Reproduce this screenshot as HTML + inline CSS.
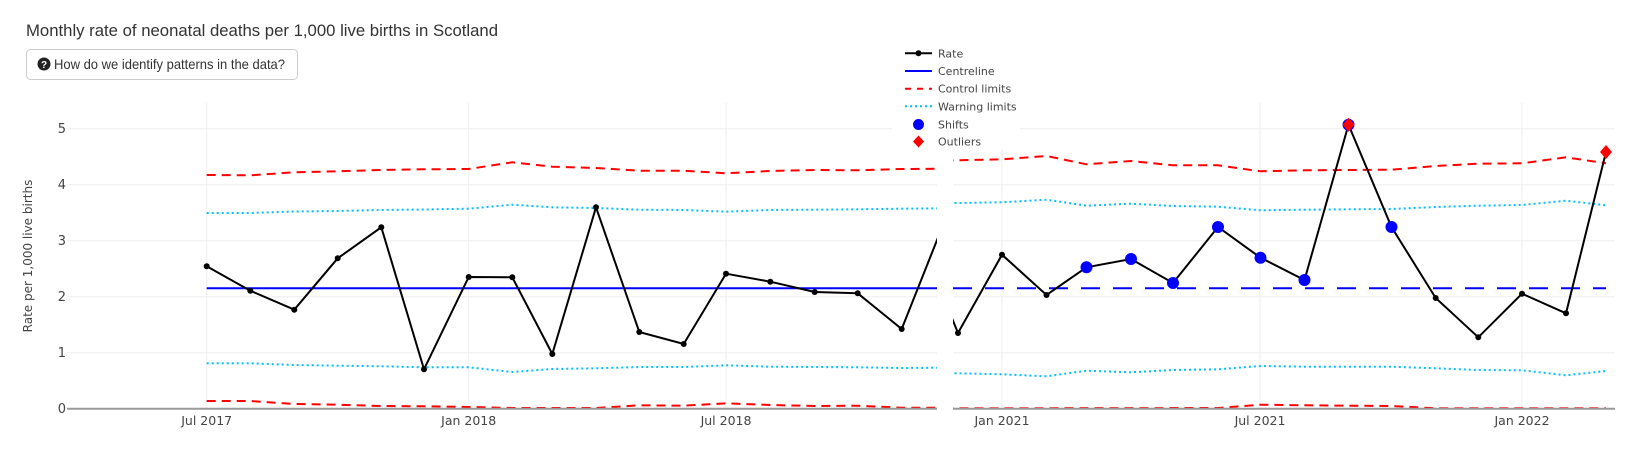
<!DOCTYPE html>
<html><head><meta charset="utf-8"><style>
html,body{margin:0;padding:0;background:#fff;width:1625px;height:471px;overflow:hidden}
</style></head><body>
<svg width="1625" height="471" xmlns="http://www.w3.org/2000/svg" style="display:block">
<defs>
<clipPath id="cl"><rect x="67" y="95" width="870" height="320"/></clipPath>
<clipPath id="cr"><rect x="953" y="95" width="662" height="320"/></clipPath>
</defs>
<text x="26" y="36" font-family="Liberation Sans, sans-serif" font-size="17" fill="#333" textLength="472" lengthAdjust="spacingAndGlyphs">Monthly rate of neonatal deaths per 1,000 live births in Scotland</text>
<rect x="26.5" y="49.5" width="271" height="30" rx="4" fill="#fff" stroke="#ccc"/>
<circle cx="44" cy="64" r="6.5" fill="#222"/>
<text x="44" y="68" text-anchor="middle" font-family="Liberation Sans, sans-serif" font-size="10" font-weight="bold" fill="#fff">?</text>
<text x="54" y="69" font-family="Liberation Sans, sans-serif" font-size="14" fill="#333" textLength="231" lengthAdjust="spacingAndGlyphs">How do we identify patterns in the data?</text>

<g stroke="#eee" stroke-width="1">
<line x1="206.7" y1="103" x2="206.7" y2="408"/><line x1="468.7" y1="103" x2="468.7" y2="408"/><line x1="726" y1="103" x2="726" y2="408"/>
<line x1="1002" y1="103" x2="1002" y2="408"/><line x1="1260" y1="103" x2="1260" y2="408"/><line x1="1522" y1="103" x2="1522" y2="408"/>
<line x1="67" y1="128.7" x2="937" y2="128.7"/><line x1="67" y1="184.7" x2="937" y2="184.7"/><line x1="67" y1="240.7" x2="937" y2="240.7"/><line x1="67" y1="296.7" x2="937" y2="296.7"/><line x1="67" y1="352.7" x2="937" y2="352.7"/>
<line x1="953" y1="128.7" x2="1615" y2="128.7"/><line x1="953" y1="184.7" x2="1615" y2="184.7"/><line x1="953" y1="240.7" x2="1615" y2="240.7"/><line x1="953" y1="296.7" x2="1615" y2="296.7"/><line x1="953" y1="352.7" x2="1615" y2="352.7"/>
</g>
<g font-family="DejaVu Sans, sans-serif" font-size="13" fill="#444" text-anchor="end">
<text x="66" y="133">5</text><text x="66" y="189">4</text><text x="66" y="245">3</text><text x="66" y="301">2</text><text x="66" y="357">1</text><text x="66" y="413">0</text>
</g>
<g font-family="DejaVu Sans, sans-serif" font-size="12.5" fill="#444" text-anchor="middle">
<text x="206.7" y="425">Jul 2017</text><text x="468.7" y="425">Jan 2018</text><text x="726" y="425">Jul 2018</text>
<text x="1002" y="425">Jan 2021</text><text x="1260" y="425">Jul 2021</text><text x="1522" y="425">Jan 2022</text>
</g>
<text transform="translate(32,256) rotate(-90)" text-anchor="middle" font-family="DejaVu Sans, sans-serif" font-size="12" fill="#444">Rate per 1,000 live births</text>

<g clip-path="url(#cl)" fill="none" stroke-width="2">
<polyline stroke="#ff0000" stroke-dasharray="9,6" points="206.7,175 250.3,175.3 294.3,172.3 337.7,171.3 381.3,170 424,169.3 468.7,169 512.3,162.3 552.3,166.7 596,168 639.3,170.7 683.7,170.7 726,173.3 770.3,171 814.7,170 857.7,170.3 901.7,169 945,168.7"/>
<polyline stroke="#00bfff" stroke-dasharray="2,3" points="206.7,213 250.3,213 294.3,211.5 337.7,211 381.3,210 424,209.5 468.7,208.7 512.3,204.7 552.3,207.3 596,208 639.3,209.7 683.7,210 726,211.7 770.3,210 814.7,209.7 857.7,209.3 901.7,208.7 945,208.3"/>
<polyline stroke="#00bfff" stroke-dasharray="2,3" points="206.7,363.3 250.3,363.3 294.3,365 337.7,365.7 381.3,366.3 424,367.3 468.7,367.3 512.3,372 552.3,369 596,368.3 639.3,367 683.7,367 726,365.3 770.3,366.7 814.7,367 857.7,367.3 901.7,368 945,367.7"/>
<polyline stroke="#ff0000" stroke-dasharray="9,6" points="206.7,401 250.3,401 294.3,404 337.7,404.7 381.3,406 424,406.3 468.7,407 512.3,408 552.3,408 596,408 639.3,405.3 683.7,405.7 726,403.3 770.3,405 814.7,406 857.7,405.7 901.7,407.7 945,407.7"/>
<line x1="206.7" y1="288.3" x2="945" y2="288.3" stroke="#0000ff"/>
<polyline stroke="#000" points="206.7,266.3 250.3,290.7 294.3,309.7 337.7,258.3 381.3,227.3 424,369.3 468.7,277 512.3,277.3 552.3,354 596,207.3 639.3,332 683.7,344 726,273.7 770.3,281.7 814.7,292 857.7,293.3 901.7,329 945,220"/>
<g fill="#000" stroke="none">
<circle cx="206.7" cy="266.3" r="3"/><circle cx="250.3" cy="290.7" r="3"/><circle cx="294.3" cy="309.7" r="3"/><circle cx="337.7" cy="258.3" r="3"/><circle cx="381.3" cy="227.3" r="3"/><circle cx="424" cy="369.3" r="3"/><circle cx="468.7" cy="277" r="3"/><circle cx="512.3" cy="277.3" r="3"/><circle cx="552.3" cy="354" r="3"/><circle cx="596" cy="207.3" r="3"/><circle cx="639.3" cy="332" r="3"/><circle cx="683.7" cy="344" r="3"/><circle cx="726" cy="273.7" r="3"/><circle cx="770.3" cy="281.7" r="3"/><circle cx="814.7" cy="292" r="3"/><circle cx="857.7" cy="293.3" r="3"/><circle cx="901.7" cy="329" r="3"/>
</g>
</g>

<g clip-path="url(#cr)" fill="none" stroke-width="2">
<polyline stroke="#ff0000" stroke-dasharray="9,6" points="914.5,160.5 958,160.3 1002,159.3 1046.5,156 1086.5,164.3 1131,161 1173,165.3 1218,165.3 1260.5,171.3 1304.5,170.3 1348.5,170 1391.5,169.7 1435.7,166 1478.3,163.7 1522,163.3 1566,157.3 1606,163.3"/>
<polyline stroke="#00bfff" stroke-dasharray="2,3" points="914.5,203 958,203 1002,202.3 1046.5,199.7 1086.5,205.7 1131,203.7 1173,206 1218,206.7 1260.5,210.3 1304.5,209.7 1348.5,209.3 1391.5,209 1435.7,207 1478.3,205.7 1522,205 1566,200.7 1606,205.3"/>
<polyline stroke="#00bfff" stroke-dasharray="2,3" points="914.5,373 958,373.3 1002,374.3 1046.5,376.3 1086.5,370.7 1131,372.3 1173,370 1218,369.3 1260.5,366 1304.5,366.7 1348.5,366.7 1391.5,366.7 1435.7,368.3 1478.3,370 1522,370.3 1566,375.3 1606,371"/>
<polyline stroke="#ff0000" stroke-dasharray="9,6" points="914.5,408.3 958,408.3 1218,408 1260.5,404.7 1304.5,405.3 1348.5,405.7 1391.5,406 1435.7,408.3 1606,408.3"/>
<line x1="953" y1="288.3" x2="1606" y2="288.3" stroke="#0000ff" stroke-dasharray="19,13"/>
<polyline stroke="#000" points="914.5,226 958,333 1002,254.7 1046.5,295 1086.5,267.3 1131,259 1173,283 1218,227 1260.5,257.7 1304.5,280 1348.5,124.7 1391.5,227 1435.7,298 1478.3,337.3 1522,293.7 1566,313.3 1606,152"/>
<g fill="#000" stroke="none">
<circle cx="958" cy="333" r="3"/><circle cx="1002" cy="254.7" r="3"/><circle cx="1046.5" cy="295" r="3"/><circle cx="1435.7" cy="298" r="3"/><circle cx="1478.3" cy="337.3" r="3"/><circle cx="1522" cy="293.7" r="3"/><circle cx="1566" cy="313.3" r="3"/>
</g>
<g fill="#0000ff" stroke="none">
<circle cx="1086.5" cy="267.3" r="6"/><circle cx="1131" cy="259" r="6"/><circle cx="1173" cy="283" r="6"/><circle cx="1218" cy="227" r="6"/><circle cx="1260.5" cy="257.7" r="6"/><circle cx="1304.5" cy="280" r="6"/><circle cx="1348.5" cy="124.7" r="6"/><circle cx="1391.5" cy="227" r="6"/>
</g>
<g fill="#ff0000" stroke="none">
<polygon points="1348.5,117.7 1354.5,124.7 1348.5,131.7 1342.5,124.7"/>
<polygon points="1606,145 1612,152 1606,159 1600,152"/>
</g>
</g>
<line x1="67" y1="408.7" x2="937" y2="408.7" stroke="#999" stroke-width="2"/>
<line x1="953" y1="408.7" x2="1615" y2="408.7" stroke="#999" stroke-width="2"/>

<rect x="892" y="42" width="128" height="108" fill="#fff"/>
<g font-family="DejaVu Sans, sans-serif" font-size="11" fill="#444">
<line x1="905" y1="53.3" x2="932" y2="53.3" stroke="#000" stroke-width="2"/><circle cx="918.5" cy="53.3" r="3" fill="#000"/>
<text x="938" y="57.3">Rate</text>
<line x1="905" y1="71" x2="932" y2="71" stroke="#0000ff" stroke-width="2"/>
<text x="938" y="75">Centreline</text>
<line x1="905" y1="88.7" x2="932" y2="88.7" stroke="#ff0000" stroke-width="2" stroke-dasharray="6,6"/>
<text x="938" y="92.7">Control limits</text>
<line x1="905" y1="106.3" x2="932" y2="106.3" stroke="#00bfff" stroke-width="2" stroke-dasharray="2,3"/>
<text x="938" y="110.3">Warning limits</text>
<circle cx="918.5" cy="124.5" r="5.5" fill="#0000ff"/>
<text x="938" y="128.5">Shifts</text>
<polygon points="918.5,135.5 924,141.5 918.5,147.5 913,141.5" fill="#ff0000"/>
<text x="938" y="145.5">Outliers</text>
</g>
</svg>
</body></html>
